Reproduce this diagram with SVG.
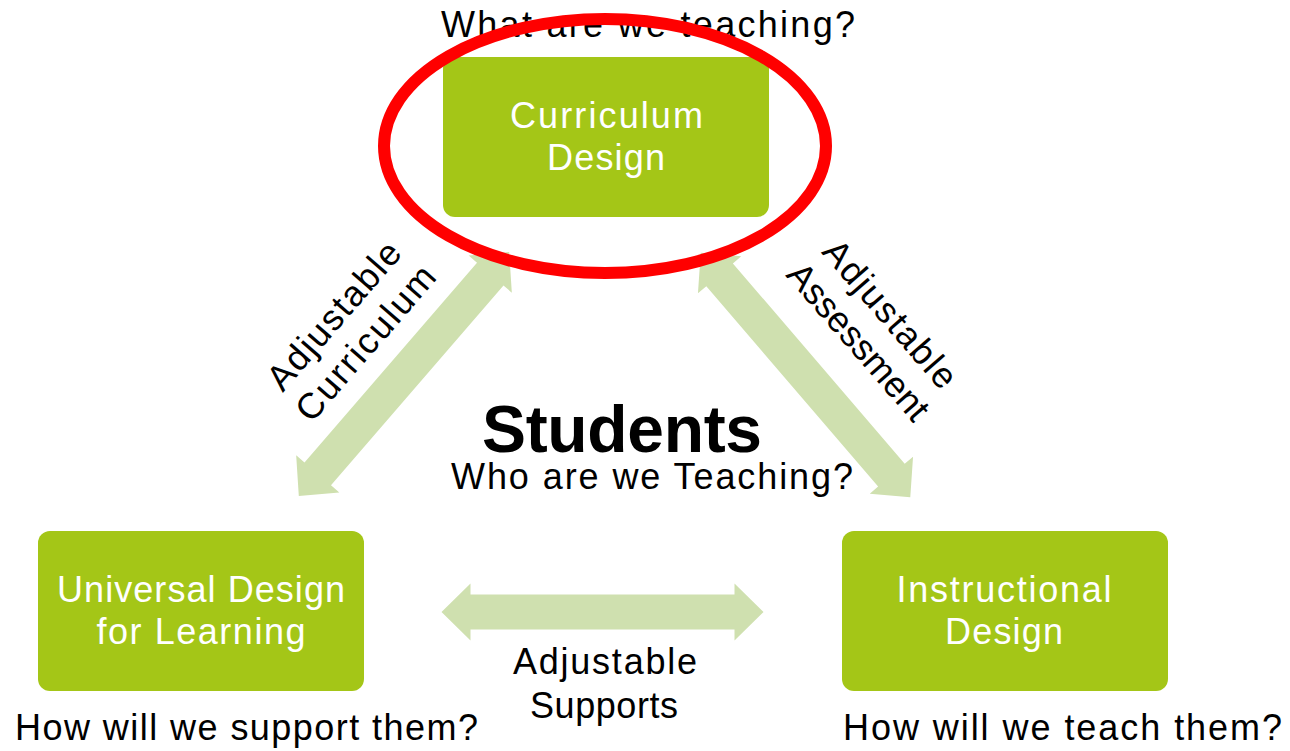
<svg xmlns="http://www.w3.org/2000/svg" width="1290" height="751" viewBox="0 0 1290 751">
  <style>
    .box { fill: #A4C617; }
    .btxt { font-family: "Liberation Sans", Arial, sans-serif; font-size: 36px; fill: #FFFFFF; text-anchor: middle; }
    .txt { font-family: "Liberation Sans", Arial, sans-serif; font-size: 36px; fill: #000000; text-anchor: middle; }
    .arrow { fill: #CFE0AF; }
    .big { font-family: "Liberation Sans", Arial, sans-serif; font-size: 66px; font-weight: bold; fill: #000000; text-anchor: middle; }
  </style>
  <defs>
    <path id="dblArrow" d="M -161,0 L -132,-28.5 L -132,-17.5 L 132,-17.5 L 132,-28.5 L 161,0 L 132,28.5 L 132,17.5 L -132,17.5 L -132,28.5 Z"/>
  </defs>
  <rect width="1290" height="751" fill="#FFFFFF"/>

  <g id="connectors">
    <use href="#dblArrow" class="arrow" transform="translate(404,374) rotate(-49.2)"/>
    <use href="#dblArrow" class="arrow" transform="translate(805.5,375) rotate(49.4)"/>
    <use href="#dblArrow" class="arrow" transform="translate(602.5,612)"/>
    <g id="label-curriculum" transform="translate(343,323.5) rotate(-49)">
      <text class="txt" x="0" y="0" textLength="184" lengthAdjust="spacing">Adjustable</text>
      <text class="txt" x="0" y="42" textLength="193" lengthAdjust="spacing">Curriculum</text>
    </g>
    <g id="label-assessment" transform="translate(881,322) rotate(49)">
      <text class="txt" x="0" y="0" textLength="184" lengthAdjust="spacing">Adjustable</text>
      <text class="txt" x="0" y="42" textLength="196" lengthAdjust="spacing">Assessment</text>
    </g>
    <g id="label-supports">
      <text class="txt" x="605" y="674" textLength="184" lengthAdjust="spacing">Adjustable</text>
      <text class="txt" x="604" y="718" textLength="148" lengthAdjust="spacing">Supports</text>
    </g>
  </g>

  <g id="node-curriculum">
    <rect class="box" x="443" y="57" width="326" height="160" rx="12"/>
    <text class="btxt" x="606.5" y="128" textLength="193" lengthAdjust="spacing">Curriculum</text>
    <text class="btxt" x="606" y="170" textLength="118" lengthAdjust="spacing">Design</text>
    <text class="txt" x="648" y="37" textLength="414" lengthAdjust="spacing">What are we teaching?</text>
  </g>

  <g id="node-students">
    <text class="big" x="622" y="452" textLength="280" lengthAdjust="spacing">Students</text>
    <text class="txt" x="652" y="489" textLength="402" lengthAdjust="spacing">Who are we Teaching?</text>
  </g>

  <g id="node-udl">
    <rect class="box" x="38" y="531" width="326" height="160" rx="12"/>
    <text class="btxt" x="201" y="602" textLength="288" lengthAdjust="spacing">Universal Design</text>
    <text class="btxt" x="201" y="644" textLength="209" lengthAdjust="spacing">for Learning</text>
    <text class="txt" x="246.5" y="740" textLength="463" lengthAdjust="spacing">How will we support them?</text>
  </g>

  <g id="node-instructional">
    <rect class="box" x="842" y="531" width="326" height="160" rx="12"/>
    <text class="btxt" x="1004" y="602" textLength="215" lengthAdjust="spacing">Instructional</text>
    <text class="btxt" x="1004" y="644" textLength="118" lengthAdjust="spacing">Design</text>
    <text class="txt" x="1062.5" y="740" textLength="439" lengthAdjust="spacing">How will we teach them?</text>
  </g>

  <ellipse id="highlight" cx="605" cy="146" rx="221" ry="127" fill="none" stroke="#FF0000" stroke-width="12"/>
</svg>
